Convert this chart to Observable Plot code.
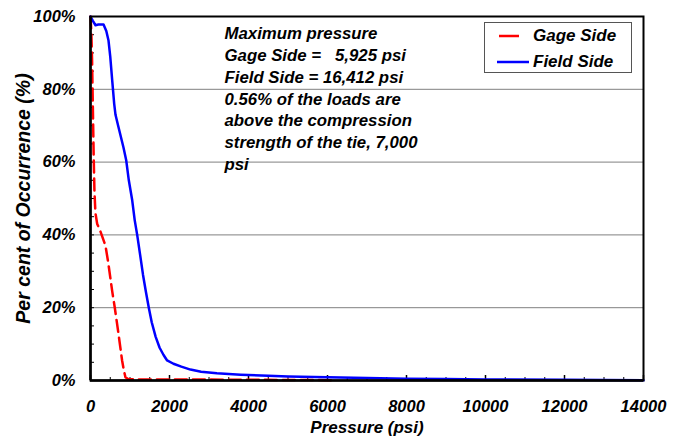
<!DOCTYPE html>
<html>
<head>
<meta charset="utf-8">
<script src="https://cdn.jsdelivr.net/npm/d3@7"></script>
<script src="https://cdn.jsdelivr.net/npm/@observablehq/plot@0.6"></script>
<style>
  html, body { margin: 0; padding: 0; background: #fff; }
  #wrap { position: relative; width: 683px; height: 438px; font-family: "Liberation Sans", Arial, sans-serif; }
  #legend { position: absolute; left: 484px; top: 22px; width: 148px; height: 51px; border: 1px solid #555; background: #fff; box-sizing: border-box; }
  .row { position: absolute; left: 0; height: 20px; display: flex; align-items: center; font-weight: bold; font-style: italic; font-size: 17px; color: #000; }
  .row svg { display: block; }
</style>
</head>
<body>
<div id="wrap"></div>
<script>
// Field Side: pressure (psi) vs per cent of occurrence (%)
const fieldPressure = [0, 60, 127, 200, 330, 400, 456, 500, 550, 600, 633, 700, 835, 904, 970, 1056, 1120, 1182, 1250, 1330, 1400, 1476, 1550, 1650, 1750, 1850, 1940, 2100, 2300, 2530, 2800, 3200, 3800, 4500, 5000, 6000, 7000, 8000, 9000, 10000, 12000, 14000];
const fieldPercent  = [100, 98.8, 97.6, 97.8, 97.8, 96, 93.4, 89, 82.4, 76, 73, 70, 64, 60.5, 55, 49.5, 44, 40, 35, 29, 24.5, 20, 16, 12, 9, 7, 5.5, 4.6, 3.8, 3, 2.4, 2, 1.6, 1.3, 1.1, 0.9, 0.7, 0.5, 0.4, 0.3, 0.2, 0.1];
// Gage Side
const gagePressure = [0, 20, 40, 60, 80, 100, 125, 170, 250, 380, 450, 550, 615, 700, 800, 850, 885, 950, 1200, 2000, 3000, 4000, 5000, 6000, 6200];
const gagePercent  = [100, 96, 88, 75, 62, 52, 46, 43, 41, 37, 32.3, 24.5, 20, 13.5, 5.5, 2.5, 0.9, 0.4, 0.3, 0.3, 0.25, 0.2, 0.15, 0.1, 0];

const xMajorTicks = [0, 2000, 4000, 6000, 8000, 10000, 12000, 14000];
const yMajorTicks = [0, 20, 40, 60, 80, 100];
const gridValues = [20, 40, 60, 80];
const annotationLines = [
  "Maximum pressure",
  "Gage Side =   5,925 psi",
  "Field Side = 16,412 psi",
  "0.56% of the loads are",
  "above the compression",
  "strength of the tie, 7,000",
  "psi"
];
const xLabel = "Pressure (psi)";
const yLabel = "Per cent of Occurrence (%)";
const seriesNames = ["Gage Side", "Field Side"];

const field = fieldPressure.map((p, i) => ({p, v: fieldPercent[i]}));
const gage = gagePressure.map((p, i) => ({p, v: gagePercent[i]}));

const FS = 16.5;
const bi = {fontWeight: "bold", fontStyle: "italic"};
const font = {...bi, fontSize: FS};

const chart = Plot.plot({
  width: 683,
  height: 438,
  marginLeft: 90,
  marginRight: 40,
  marginTop: 16,
  marginBottom: 58,
  style: {fontFamily: "'Liberation Sans', Arial, sans-serif", fontSize: FS + "px", background: "#fff", color: "#000"},
  x: {domain: [0, 14000]},
  y: {domain: [0, 100]},
  marks: [
    Plot.gridY(gridValues, {stroke: "#808080", strokeOpacity: 1, strokeWidth: 1}),
    Plot.axisY(d3.range(0, 101, 5), {tickSize: -4, tickFormat: () => "", label: null, strokeWidth: 1}),
    Plot.axisX(d3.range(0, 14001, 500), {tickSize: -3, tickFormat: () => "", label: null, strokeWidth: 1}),
    Plot.axisX(xMajorTicks, {tickSize: -5, tickFormat: () => "", label: null, strokeWidth: 1.5}),
    Plot.axisY(yMajorTicks, {tickSize: 0, tickPadding: 15, tickFormat: d => d + "%", label: null, ...font}),
    Plot.axisX(xMajorTicks, {tickSize: 0, tickPadding: 20, tickFormat: d3.format("d"), label: null, ...font}),
    Plot.line(gage, {x: "p", y: "v", stroke: "#FF0000", strokeWidth: 2.5, strokeDasharray: "12,6"}),
    Plot.line(field, {x: "p", y: "v", stroke: "#0000FF", strokeWidth: 2.5}),
    Plot.frame({stroke: "#000", strokeWidth: 2}),
    Plot.ruleX([0], {stroke: "#000", strokeWidth: 2.5}),
    Plot.ruleY([0], {stroke: "#000", strokeWidth: 2.5}),
    Plot.text([annotationLines.join("\n")], {frameAnchor: "top-left", dx: 134, dy: 7, lineAnchor: "top", textAnchor: "start", lineHeight: 1.3, ...bi, fontSize: 16.8, fill: "#000"}),
    Plot.text([xLabel], {frameAnchor: "bottom", dy: 47, lineAnchor: "middle", textAnchor: "middle", ...bi, fontSize: 17, fill: "#000"}),
    Plot.text([yLabel], {frameAnchor: "left", dx: -67, rotate: -90, lineAnchor: "middle", textAnchor: "middle", ...bi, fontSize: 19.5, fill: "#000"})
  ]
});

const wrap = document.getElementById("wrap");
wrap.appendChild(chart);

const legend = document.createElement("div");
legend.id = "legend";
legend.innerHTML = `
  <div class="row" style="top:3px;">
    <svg width="48" height="20"><line x1="14" x2="34" y1="10" y2="10" stroke="#FF0000" stroke-width="2.5"/></svg>
    <span>${seriesNames[0]}</span>
  </div>
  <div class="row" style="top:29px;">
    <svg width="48" height="20"><line x1="12" x2="44" y1="10" y2="10" stroke="#0000FF" stroke-width="2.5"/></svg>
    <span>${seriesNames[1]}</span>
  </div>`;
wrap.appendChild(legend);
</script>
</body>
</html>
